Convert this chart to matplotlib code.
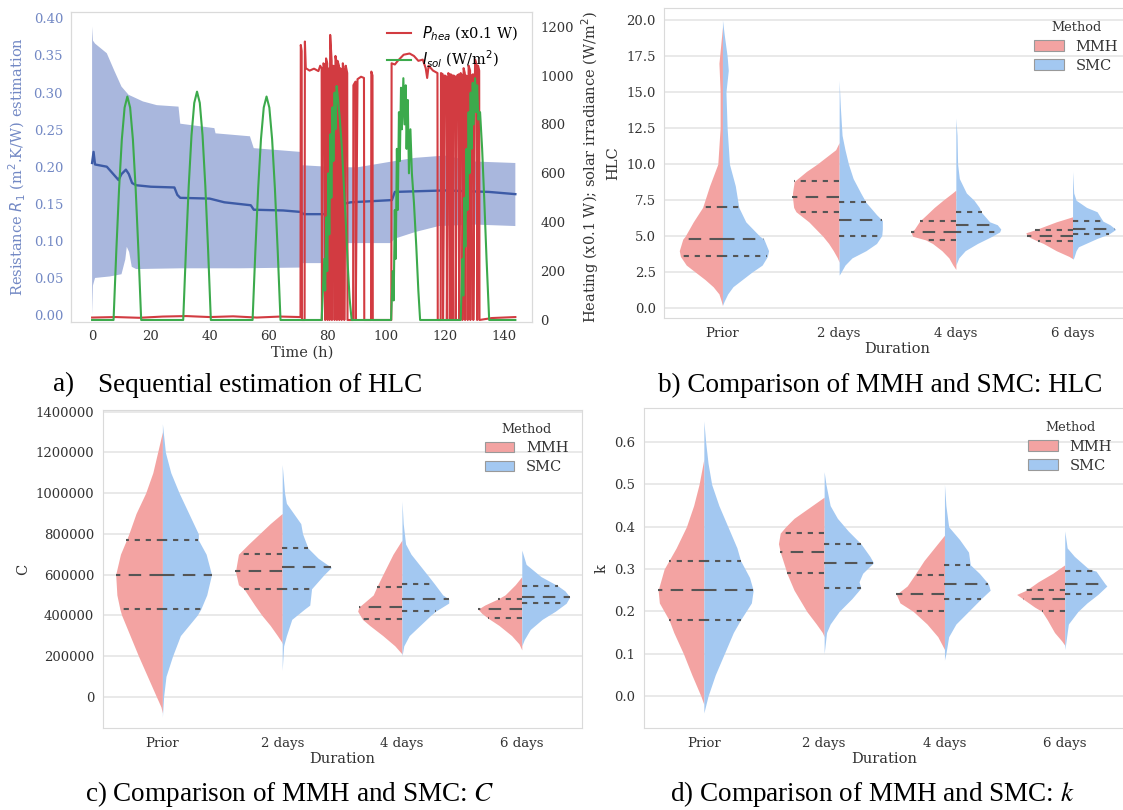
import numpy as np
import matplotlib.pyplot as plt
from matplotlib.patches import Patch
from matplotlib.lines import Line2D
from matplotlib.ticker import FormatStrFormatter

plt.rcParams['font.family'] = 'DejaVu Serif'

W, H = 1123, 810
PINK = '#f3a3a2'
BLUE = '#a3c8f1'
BAND = '#a9b7dd'
MEAN = '#3d5ba6'
RED = '#d23b41'
GREEN = '#3caa4c'
LEFTC = '#7288c4'
TXT = '#333333'
QCOL = '#555555'

# ---------------- panel a: sequential estimation ----------------
band_hi_t = [0, 0.3, 1, 5, 7.5, 10, 12.4, 17.3, 22, 29.4, 30, 41.6, 42, 53.7, 55, 70.7, 71.3, 80, 90, 102, 110, 120, 130, 144]
band_hi = [0.389, 0.37, 0.366, 0.353, 0.33, 0.308, 0.297, 0.288, 0.283, 0.281, 0.258, 0.252, 0.245, 0.241, 0.225, 0.22,
           0.202, 0.200, 0.199, 0.207, 0.212, 0.215, 0.207, 0.205]
band_lo_t = [0, 0.3, 1, 6, 10, 11.3, 11.8, 12.6, 13.5, 15, 30, 50, 70.8, 71.3, 79, 79.5, 101.5, 103, 110, 118, 130, 144]
band_lo = [0.0, 0.04, 0.05, 0.052, 0.055, 0.075, 0.092, 0.085, 0.065, 0.062, 0.063, 0.063, 0.064, 0.07, 0.07, 0.097,
           0.097, 0.103, 0.112, 0.12, 0.122, 0.12]

mean_t = [0, 0.5, 1, 5, 7, 9, 10, 11.5, 12.5, 13.6, 15, 20, 28, 29, 30, 40, 45, 54, 55, 65, 71, 72, 79, 83, 88, 102,
          103, 120, 135, 144]
mean_r = [0.205, 0.22, 0.203, 0.2, 0.191, 0.182, 0.19, 0.196, 0.19, 0.178, 0.175, 0.173, 0.172, 0.162, 0.158, 0.157,
          0.152, 0.148, 0.142, 0.141, 0.139, 0.136, 0.136, 0.148, 0.152, 0.155, 0.166, 0.168, 0.166, 0.163]

heat_t = [0, 8, 16, 24, 32, 40, 48, 56, 64, 70.9,
          71.0, 71.3, 71.4, 72.3,
          72.4, 72.7, 74.0, 75.5, 77.0, 77.6, 78.1, 78.2,
          78.7, 79.2, 79.3, 79.6, 80.0, 80.1, 80.3, 80.7, 80.8, 81.0, 81.5, 81.6,
          82.0, 82.4, 82.5, 82.8, 83.2, 83.3, 83.5, 84.0, 84.1, 84.4, 84.8, 84.9,
          85.3, 85.7, 85.8, 86.3, 86.8, 86.9, 88.8,
          88.9, 89.6, 89.7, 90.3, 91.5, 92.5, 92.6, 94.9, 95.0, 95.4, 95.5, 101.8,
          101.9, 103.0, 104.0, 106.0, 108.0, 109.5, 111.0, 112.5, 113.5, 114.0, 114.5, 116.0, 117.5, 117.6, 118.6,
          118.7, 119.3, 119.4, 120.0, 120.6, 120.7, 121.2, 121.6, 121.7, 122.0, 122.5, 122.6,
          123.0, 123.6, 123.7, 124.2, 124.8, 124.9, 125.4, 125.9, 126.0, 126.4, 126.8, 126.9,
          127.2, 127.7, 127.8, 128.1, 128.6, 128.7, 129.1, 129.6, 129.7, 130.3, 130.9, 131.0,
          131.3, 131.7, 131.8, 136, 140, 144]
heat_p = [10, 12, 9, 14, 16, 12, 15, 10, 14, 12,
          1125, 1100, 0, 0,
          1139, 1030, 1020, 1028, 1018, 1040, 1030, 0,
          1050, 1040, 0, 1070, 1050, 0, 1020, 1030, 0, 1166, 1060, 0,
          1040, 1035, 0, 1080, 1050, 0, 1060, 1040, 0, 1030, 1025, 0,
          1050, 1020, 0, 1040, 1010, 0, 0,
          960, 975, 0, 985, 995, 990, 0, 0, 1016, 1000, 0, 0,
          1050, 1045, 1060, 1085, 1090, 1080, 1060, 1065, 1030, 990, 1040, 1020, 1010, 0, 0,
          1010, 1005, 0, 1000, 995, 0, 1010, 1000, 0, 1005, 1000, 0,
          1000, 995, 0, 1000, 1005, 0, 1010, 1000, 0, 1030, 1010, 0,
          1000, 995, 0, 1040, 1020, 0, 1000, 1005, 0, 1065, 1040, 0,
          1040, 1020, 0, 8, 10, 12]

sol_t = [0, 7.3, 8.24, 9.18, 10.12, 11.06, 12.0, 12.94, 13.88, 14.82, 15.76, 16.7,
         31.0, 31.94, 32.88, 33.82, 34.76, 35.7, 36.64, 37.58, 38.52, 39.46, 40.4,
         54.6, 55.55, 56.5, 57.45, 58.4, 59.35, 60.3, 61.25, 62.2, 63.15, 64.1,
         78.1, 79.0, 79.3, 79.7, 80.0, 80.4, 80.7, 81.1, 81.4, 81.8, 82.1, 82.5, 82.8, 83.2, 83.7, 84.3, 85.0,
         85.7, 86.4, 87.0, 87.6, 88.3,
         101.7, 102.3, 102.6, 103.0, 103.3, 103.7, 104.0, 104.4, 104.7, 105.1, 105.4, 105.9, 106.3, 106.7,
         107.0, 107.4, 107.8, 108.3, 108.8, 109.5, 110.3, 111.0, 111.6,
         125.4, 126.0, 126.3, 126.7, 127.0, 127.4, 127.7, 128.1, 128.4, 128.8, 129.1, 129.5, 129.8, 130.3,
         130.7, 131.0, 131.4, 132.0, 132.7, 133.4, 134.2, 135.1, 144]
sol_i = [0, 0, 283, 537, 739, 869, 914, 869, 739, 537, 283, 0,
         0, 289, 549, 755, 888, 934, 888, 755, 549, 289, 0,
         0, 283, 537, 739, 869, 914, 869, 739, 537, 283, 0,
         0, 250, 120, 420, 200, 600, 350, 760, 500, 870, 650, 930, 780, 957, 900, 820, 700,
         540, 380, 220, 90, 0,
         0, 200, 80, 450, 250, 700, 450, 850, 650, 950, 780, 989, 800, 960,
         700, 900, 600, 780, 600, 480, 300, 120, 0,
         0, 250, 100, 500, 300, 700, 450, 850, 600, 930, 700, 970, 800, 989,
         850, 960, 820, 850, 700, 500, 250, 0, 0]

# ---------------- violin panels ----------------
durations = ['Prior', '2 days', '4 days', '6 days']

hlc_mmh_y = [[0.2, 0.5, 1.0, 1.5, 2.0, 2.5, 3.0, 3.6, 4.0, 4.8, 5.0, 6.0, 7.0, 8.5, 10.0, 12.5, 15.0, 17.0, 19.5],
             [3.2, 3.5, 4.0, 4.5, 5.0, 5.5, 6.0, 6.7, 7.0, 7.7, 8.0, 8.8, 9.5, 10.0, 10.5, 11.0, 11.5],
             [2.7, 3.0, 3.5, 4.0, 4.5, 4.75, 5.0, 5.3, 5.5, 6.05, 6.5, 7.0, 7.5, 8.0, 8.2],
             [3.45, 3.6, 4.0, 4.5, 4.65, 4.9, 5.05, 5.24, 5.45, 6.0, 6.35]]
hlc_mmh_w = [[0, 0.01, 0.03, 0.08, 0.15, 0.23, 0.31, 0.36, 0.37, 0.34, 0.32, 0.25, 0.17, 0.11, 0.04, 0.02, 0.02, 0.03, 0],
             [0, 0.015, 0.05, 0.09, 0.14, 0.2, 0.26, 0.37, 0.39, 0.40, 0.40, 0.385, 0.28, 0.19, 0.11, 0.03, 0],
             [0, 0.025, 0.06, 0.12, 0.2, 0.26, 0.37, 0.385, 0.355, 0.31, 0.25, 0.185, 0.11, 0.03, 0],
             [0, 0.03, 0.14, 0.25, 0.295, 0.36, 0.39, 0.40, 0.32, 0.14, 0]]
hlc_mmh_q = [[3.6, 4.8, 7.0], [6.7, 7.7, 8.8], [4.75, 5.3, 6.05], [4.65, 5.05, 5.45]]
hlc_smc_y = [[0.2, 0.5, 1.0, 1.5, 2.0, 2.5, 3.0, 3.6, 4.0, 4.8, 5.0, 6.0, 7.0, 8.5, 10.0, 12.5, 15.0, 16.5, 17.5, 19.0, 20.0],
             [2.3, 2.5, 3.0, 3.5, 4.0, 4.5, 5.05, 5.5, 6.1, 6.5, 7.35, 8.0, 9.0, 10.0, 11.0, 12.0, 14.0, 15.8],
             [3.0, 3.5, 4.0, 4.5, 5.0, 5.3, 5.5, 5.8, 6.0, 6.65, 7.0, 7.5, 8.0, 9.0, 10.0, 12.0, 13.2],
             [3.4, 3.5, 4.0, 4.27, 4.85, 5.15, 5.48, 5.8, 6.05, 6.7, 7.0, 7.5, 8.0, 9.5]]
hlc_smc_w = [[0, 0.015, 0.045, 0.09, 0.17, 0.25, 0.34, 0.385, 0.395, 0.355, 0.32, 0.2, 0.14, 0.11, 0.06, 0.04, 0.03,
              0.05, 0.04, 0.015, 0],
             [0, 0.015, 0.05, 0.11, 0.23, 0.32, 0.365, 0.37, 0.37, 0.32, 0.23, 0.185, 0.12, 0.08, 0.05, 0.025, 0.01, 0],
             [0, 0.025, 0.08, 0.185, 0.31, 0.375, 0.385, 0.355, 0.29, 0.22, 0.2, 0.155, 0.09, 0.03, 0.015, 0.01, 0],
             [0, 0.01, 0.03, 0.05, 0.21, 0.31, 0.37, 0.32, 0.26, 0.21, 0.12, 0.03, 0.01, 0]]
hlc_smc_q = [[3.6, 4.8, 7.0], [5.05, 6.1, 7.35], [5.3, 5.8, 6.65], [5.15, 5.5, 6.05]]

c_mmh_y = [[-80e3, -50e3, 0, 100e3, 200e3, 300e3, 400e3, 430e3, 500e3, 600e3, 700e3, 770e3, 800e3, 900e3, 1.0e6,
            1.1e6, 1.25e6, 1.3e6],
           [260e3, 270e3, 300e3, 350e3, 400e3, 450e3, 530e3, 550e3, 615e3, 650e3, 700e3, 750e3, 800e3, 850e3, 900e3],
           [210e3, 220e3, 250e3, 300e3, 350e3, 380e3, 420e3, 440e3, 500e3, 540e3, 600e3, 700e3, 770e3],
           [230e3, 260e3, 300e3, 350e3, 385e3, 410e3, 430e3, 450e3, 480e3, 500e3, 550e3, 590e3]]
c_mmh_w = [[0, 0.012, 0.05, 0.125, 0.2, 0.27, 0.34, 0.355, 0.38, 0.39, 0.35, 0.30, 0.28, 0.22, 0.14, 0.08, 0.02, 0],
           [0, 0.006, 0.04, 0.1, 0.17, 0.23, 0.32, 0.365, 0.39, 0.38, 0.365, 0.28, 0.19, 0.1, 0],
           [0, 0.015, 0.06, 0.16, 0.27, 0.33, 0.37, 0.36, 0.24, 0.21, 0.16, 0.075, 0],
           [0, 0.024, 0.085, 0.19, 0.28, 0.335, 0.365, 0.31, 0.2, 0.14, 0.055, 0]]
c_mmh_q = [[430e3, 600e3, 770e3], [530e3, 615e3, 700e3], [380e3, 440e3, 540e3], [385e3, 430e3, 480e3]]
c_smc_y = [[-100e3, 0, 100e3, 200e3, 300e3, 400e3, 430e3, 500e3, 600e3, 700e3, 770e3, 800e3, 900e3, 1.0e6, 1.1e6,
            1.2e6, 1.34e6],
           [130e3, 250e3, 300e3, 380e3, 430e3, 450e3, 530e3, 600e3, 635e3, 680e3, 730e3, 800e3, 850e3, 900e3, 950e3,
            1.0e6, 1.14e6],
           [200e3, 250e3, 300e3, 350e3, 400e3, 420e3, 460e3, 480e3, 500e3, 555e3, 600e3, 700e3, 750e3, 850e3, 960e3],
           [250e3, 280e3, 330e3, 380e3, 420e3, 459e3, 490e3, 520e3, 545e3, 590e3, 650e3, 720e3]]
c_smc_w = [[0, 0.01, 0.03, 0.085, 0.15, 0.29, 0.32, 0.37, 0.41, 0.365, 0.3, 0.3, 0.22, 0.14, 0.07, 0.025, 0],
           [0, 0.012, 0.035, 0.08, 0.185, 0.23, 0.245, 0.35, 0.41, 0.3, 0.215, 0.17, 0.155, 0.095, 0.035, 0.02, 0],
           [0, 0.015, 0.06, 0.15, 0.24, 0.28, 0.39, 0.39, 0.34, 0.27, 0.21, 0.075, 0.03, 0.01, 0],
           [0, 0.02, 0.07, 0.17, 0.28, 0.37, 0.40, 0.36, 0.30, 0.16, 0.036, 0]]
c_smc_q = [[430e3, 600e3, 770e3], [530e3, 635e3, 730e3], [420e3, 480e3, 555e3], [459e3, 490e3, 545e3]]

k_mmh_y = [[-0.02, 0.0, 0.05, 0.1, 0.15, 0.18, 0.22, 0.25, 0.3, 0.32, 0.35, 0.4, 0.45, 0.5, 0.56],
           [0.14, 0.15, 0.17, 0.2, 0.25, 0.29, 0.3, 0.34, 0.36, 0.385, 0.4, 0.42, 0.45, 0.47],
           [0.11, 0.12, 0.14, 0.17, 0.2, 0.22, 0.24, 0.26, 0.285, 0.32, 0.35, 0.38],
           [0.12, 0.13, 0.15, 0.18, 0.2, 0.21, 0.23, 0.24, 0.25, 0.27, 0.29, 0.31]]
k_mmh_w = [[0, 0.025, 0.1, 0.17, 0.25, 0.29, 0.37, 0.38, 0.33, 0.29, 0.23, 0.145, 0.085, 0.04, 0],
           [0, 0.015, 0.065, 0.145, 0.25, 0.31, 0.32, 0.365, 0.38, 0.365, 0.32, 0.25, 0.1, 0],
           [0, 0.018, 0.055, 0.145, 0.26, 0.37, 0.4, 0.31, 0.25, 0.17, 0.085, 0],
           [0, 0.025, 0.085, 0.145, 0.19, 0.25, 0.35, 0.4, 0.32, 0.22, 0.1, 0]]
k_mmh_q = [[0.18, 0.25, 0.32], [0.29, 0.34, 0.385], [0.2, 0.24, 0.285], [0.2, 0.23, 0.25]]
k_smc_y = [[-0.04, 0.0, 0.05, 0.1, 0.15, 0.18, 0.22, 0.25, 0.28, 0.32, 0.35, 0.4, 0.45, 0.5, 0.55, 0.6, 0.65],
           [0.1, 0.15, 0.17, 0.2, 0.23, 0.255, 0.27, 0.29, 0.315, 0.33, 0.36, 0.39, 0.42, 0.45, 0.5, 0.53],
           [0.085, 0.1, 0.14, 0.17, 0.2, 0.23, 0.25, 0.265, 0.29, 0.31, 0.34, 0.37, 0.4, 0.45, 0.5],
           [0.11, 0.12, 0.17, 0.2, 0.22, 0.24, 0.26, 0.265, 0.295, 0.3, 0.33, 0.35, 0.39]]
k_smc_w = [[0, 0.035, 0.095, 0.17, 0.245, 0.305, 0.395, 0.41, 0.38, 0.305, 0.275, 0.2, 0.125, 0.065, 0.035, 0.015, 0],
           [0, 0.02, 0.05, 0.125, 0.23, 0.305, 0.29, 0.32, 0.41, 0.38, 0.305, 0.2, 0.11, 0.05, 0.015, 0],
           [0, 0.012, 0.035, 0.095, 0.2, 0.305, 0.38, 0.365, 0.29, 0.215, 0.2, 0.125, 0.035, 0.012, 0],
           [0, 0.006, 0.03, 0.11, 0.185, 0.275, 0.35, 0.335, 0.26, 0.2, 0.08, 0.02, 0]]
k_smc_q = [[0.18, 0.25, 0.32], [0.255, 0.315, 0.36], [0.23, 0.265, 0.31], [0.24, 0.265, 0.295]]


def px_axes(fig, left, top, right, bottom):
    return fig.add_axes([left / W, 1 - bottom / H, (right - left) / W, (bottom - top) / H])


def draw_violins(ax, my, mw, mq, sy, sw, sq):
    for i in range(len(durations)):
        for ys, ws, qs, side, col in ((my[i], mw[i], mq[i], -1, PINK), (sy[i], sw[i], sq[i], 1, BLUE)):
            y = np.array(ys)
            w = np.array(ws)
            ax.fill_betweenx(y, i, i + side * w, color=col, lw=0, zorder=2)
            for j, q in enumerate(qs):
                hw = np.interp(q, y, w)
                ls = (0, (6, 4)) if j == 1 else (0, (2.5, 2.8))
                ax.plot([i, i + side * hw], [q, q], color=QCOL, lw=1.5, ls=ls, zorder=3)
    ax.set_xlim(-0.5, 3.5)
    ax.set_xticks(range(len(durations)))
    ax.set_xticklabels(durations)
    ax.set_xlabel('Duration', fontsize=10.5, color=TXT, labelpad=2)
    ax.yaxis.grid(True, color='#e3e3e3', lw=1.1)
    ax.set_axisbelow(True)
    for s in ax.spines.values():
        s.set_color('#dadada')
    ax.tick_params(length=0, labelsize=9.5, colors=TXT, pad=6)
    handles = [Patch(facecolor=PINK, edgecolor='#999999', lw=0.8, label='MMH'),
               Patch(facecolor=BLUE, edgecolor='#999999', lw=0.8, label='SMC')]
    leg = ax.legend(handles=handles, title='Method', loc='upper right', frameon=False, fontsize=10.5,
                    title_fontsize=9.3, labelspacing=0.35)
    leg.get_title().set_color(TXT)
    for t in leg.get_texts():
        t.set_color(TXT)


fig = plt.figure(figsize=(W / 100, H / 100), dpi=100)

# panel a
ax_a = px_axes(fig, 71.4, 11.7, 532.1, 321.7)
ax_a.fill(np.concatenate([band_hi_t, band_lo_t[::-1]]), np.concatenate([band_hi, band_lo[::-1]]),
          color=BAND, lw=0)
ax_a.plot(mean_t, mean_r, color=MEAN, lw=1.7)
ax_a.set_xlim(-7.04, 149.7)
ax_a.set_ylim(-0.009, 0.409)
ax_a.set_yticks(np.arange(0, 0.41, 0.05))
ax_a.yaxis.set_major_formatter(FormatStrFormatter('%.2f'))
ax_a.set_xticks(range(0, 141, 20))
ax_a.tick_params(axis='y', length=0, labelsize=9.5, colors=LEFTC, pad=6)
ax_a.tick_params(axis='x', length=0, labelsize=9.5, colors=TXT, pad=6)
ax_a.set_ylabel(r'Resistance $R_1$ (m$^2$.K/W) estimation', color=LEFTC, fontsize=10.5)
ax_a.set_xlabel('Time (h)', fontsize=10.5, color=TXT, labelpad=2)

ax_a2 = ax_a.twinx()
ax_a2.plot(heat_t, heat_p, color=RED, lw=1.5, label=r'$P_{hea}$ (x0.1 W)')
ax_a2.plot(sol_t, sol_i, color=GREEN, lw=1.5, label=r'$I_{sol}$ (W/m$^2$)')
ax_a2.set_ylim(-7, 1261)
ax_a2.set_yticks(range(0, 1201, 200))
ax_a2.tick_params(length=0, labelsize=9.5, colors=TXT, pad=6)
ax_a2.set_ylabel(r'Heating (x0.1 W); solar irradiance (W/m$^2$)', fontsize=10.5, color=TXT)
for ax in (ax_a, ax_a2):
    for s in ax.spines.values():
        s.set_color('#dadada')
ax_a2.legend(loc='upper right', frameon=False, fontsize=10.5, handlelength=1.6, labelspacing=0.4)

# panel b
ax_b = px_axes(fig, 664.1, 8.3, 1130.9, 318.3)
draw_violins(ax_b, hlc_mmh_y, hlc_mmh_w, hlc_mmh_q, hlc_smc_y, hlc_smc_w, hlc_smc_q)
ax_b.set_ylim(-0.69, 20.81)
ax_b.set_yticks(np.arange(0, 20.1, 2.5))
ax_b.yaxis.set_major_formatter(FormatStrFormatter('%.1f'))
ax_b.set_ylabel('HLC', fontsize=10.5, color=TXT)

# panel c
ax_c = px_axes(fig, 102.5, 410, 581.7, 728.3)
draw_violins(ax_c, c_mmh_y, c_mmh_w, c_mmh_q, c_smc_y, c_smc_w, c_smc_q)
ax_c.set_ylim(-155e3, 1.408e6)
ax_c.set_yticks(range(0, 1400001, 200000))
ax_c.yaxis.set_major_formatter(FormatStrFormatter('%d'))
ax_c.set_ylabel('C', fontsize=10.5, color=TXT)

# panel d
ax_d = px_axes(fig, 643.7, 408.3, 1124.9, 728.3)
draw_violins(ax_d, k_mmh_y, k_mmh_w, k_mmh_q, k_smc_y, k_smc_w, k_smc_q)
ax_d.set_ylim(-0.0764, 0.68)
ax_d.set_yticks(np.arange(0, 0.61, 0.1))
ax_d.yaxis.set_major_formatter(FormatStrFormatter('%.1f'))
ax_d.set_ylabel('k', fontsize=10.5, color=TXT)

# captions
cap = dict(family='Liberation Serif', fontsize=19.5, va='baseline', color='black')
fig.text(53 / W, 1 - 391.5 / H, 'a)', **cap)
fig.text(98 / W, 1 - 391.5 / H, 'Sequential estimation of HLC', **cap)
fig.text(880 / W, 1 - 391.5 / H, 'b) Comparison of MMH and SMC: HLC', ha='center', **cap)
fig.text(290 / W, 1 - 801 / H, r'c) Comparison of MMH and SMC: $C$', ha='center', math_fontfamily='stix', **cap)
fig.text(872 / W, 1 - 801 / H, r'd) Comparison of MMH and SMC: $k$', ha='center', math_fontfamily='stix', **cap)

fig.savefig('out.png', dpi=100)
